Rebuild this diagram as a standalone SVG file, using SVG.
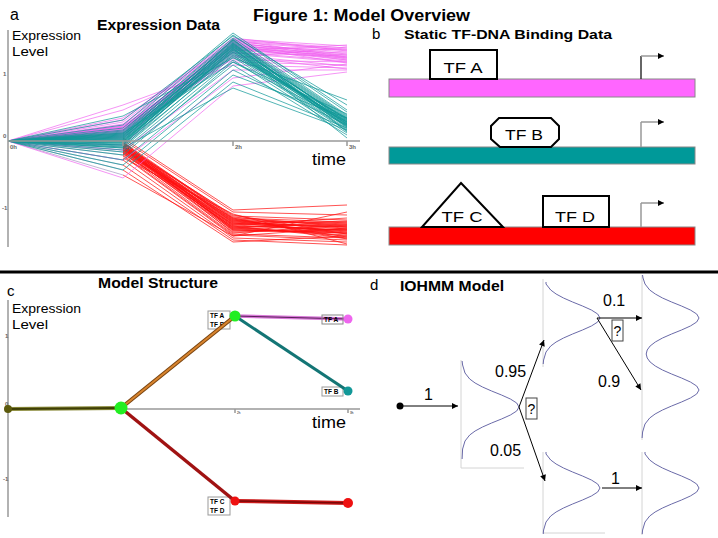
<svg xmlns="http://www.w3.org/2000/svg" width="718" height="538" viewBox="0 0 718 538">
<style>
text{font-family:"Liberation Sans",Arial,sans-serif;fill:#000}
.t{font-weight:bold}
.ax{stroke:#999;stroke-width:1.5;fill:none}
.tk{font-size:6px;font-weight:bold;fill:#666}
.m polyline{stroke:#f060f0;stroke-width:0.8;fill:none;stroke-opacity:0.85}
.c polyline{stroke:#109898;stroke-width:0.8;fill:none;stroke-opacity:0.9}
.r polyline{stroke:#ff1010;stroke-width:0.8;fill:none;stroke-opacity:0.9}
.r0 path{stroke:#6a5a9a;stroke-width:0.8;fill:none;stroke-opacity:0.55}
.tf{fill:#fff;stroke:#000;stroke-width:2}
.tft{font-size:15px;text-anchor:middle}
.bar{stroke:#888;stroke-width:1}
.prom{fill:none;stroke-width:1.5}
.lb{fill:#fff;stroke:#999;stroke-width:1}
.lbt{font-size:6.5px;font-weight:bold}
.gc{fill:none;stroke:#6a6aa8;stroke-width:1}
.bd{stroke:#d4d4d4;stroke-width:1;fill:none}
.ar{stroke:#000;stroke-width:1;fill:none;marker-end:url(#ah)}
.num{font-size:16px}
.q{fill:#fff;stroke:#444;stroke-width:1}
</style>
<defs>
<marker id="ah" viewBox="0 0 10 10" refX="10" refY="5" markerWidth="7" markerHeight="6" markerUnits="userSpaceOnUse" orient="auto"><path d="M0,0 L10,5 L0,10 z" fill="#000"/></marker>
<path id="gf" class="gc" d="M0.1,-46 L0.6,-42 L3,-34 L7.7,-28 L13.1,-24 L20.5,-20 L29.6,-16 L39.5,-12 L48.4,-8 L54.7,-4 L57,0 L54.7,4 L48.4,8 L39.5,12 L29.6,16 L20.5,20 L13.1,24 L7.7,28 L3,34 L0.6,42 L0.1,52"/>
<path id="gs" class="gc" d="M3,-36 L3,-34 L7.7,-28 L13.1,-24 L20.5,-20 L29.6,-16 L39.5,-12 L48.4,-8 L54.7,-4 L57,0 L54.7,4 L48.4,8 L39.5,12 L29.6,16 L20.5,20 L13.1,24 L7.7,28 L3,34 L0.6,42 L0.2,46"/>
</defs>
<rect width="718" height="538" fill="#fff"/>

<text class="t" x="253" y="21" font-size="16" textLength="217" lengthAdjust="spacingAndGlyphs">Figure 1: Model Overview</text>

<!-- ===== Panel a ===== -->
<g id="panel-a">
<text x="10" y="20" font-size="16">a</text>
<text class="t" x="97" y="30" font-size="15" textLength="123" lengthAdjust="spacingAndGlyphs">Expression Data</text>
<g class="r0">
<path d="M8,141 L123,145 M8,141 L123,150 M8,141 L123,155 M8,141 L123,160 M8,141 L123,165 M8,141 L123,170 M8,141 L123,175 M8,141 L123,152 M8,141 L123,147"/>
</g>
<g class="r">
<polyline points="123,145 233,220 347,225"/><polyline points="123,148 233,225 347,230"/><polyline points="123,142 233,218 347,222"/><polyline points="123,150 233,228 347,235"/><polyline points="123,146 233,222 347,228"/><polyline points="123,152 233,230 347,232"/><polyline points="123,144 233,216 347,220"/><polyline points="123,149 233,226 347,238"/><polyline points="123,147 233,224 347,226"/><polyline points="123,151 233,232 347,230"/><polyline points="123,143 233,219 347,224"/><polyline points="123,153 233,227 347,236"/><polyline points="123,146 233,221 347,229"/><polyline points="123,148 233,229 347,233"/><polyline points="123,145 233,217 347,227"/><polyline points="123,150 233,223 347,231"/><polyline points="123,155 233,235 347,240"/><polyline points="123,140 233,212 347,215"/><polyline points="123,160 233,238 347,242"/><polyline points="123,138 233,210 347,205"/><polyline points="123,165 233,240 347,245"/><polyline points="123,170 233,242 347,236"/><polyline points="123,175 233,236 347,228"/><polyline points="123,147 233,225 347,218"/><polyline points="123,149 233,220 347,234"/><polyline points="123,144 233,228 347,222"/><polyline points="123,152 233,218 347,239"/><polyline points="123,146 233,233 347,225"/><polyline points="123,148 233,226 347,230"/><polyline points="123,150 233,222 347,227"/><polyline points="123,142 233,230 347,233"/><polyline points="123,154 233,224 347,221"/><polyline points="123,147 233,219 347,237"/><polyline points="123,145 233,231 347,229"/><polyline points="123,151 233,227 347,224"/><polyline points="123,143 233,223 347,232"/><polyline points="123,149 233,229 347,226"/><polyline points="123,146 233,215 347,234"/><polyline points="123,153 233,234 347,238"/><polyline points="123,148 233,221 347,223"/><polyline points="123,156 233,236 347,212"/><polyline points="123,158 233,214 347,244"/>
</g>
<g class="m">
<polyline points="8,141 123,130 233,42 347,50"/><polyline points="8,141 123,128 233,45 347,55"/><polyline points="8,141 123,125 233,40 347,48"/><polyline points="8,141 123,133 233,48 347,60"/><polyline points="8,141 123,127 233,44 347,52"/><polyline points="8,141 123,135 233,50 347,58"/><polyline points="8,141 123,122 233,39 347,46"/><polyline points="8,141 123,131 233,46 347,63"/><polyline points="8,141 123,129 233,43 347,54"/><polyline points="8,141 123,126 233,47 347,57"/><polyline points="8,141 123,138 233,52 347,61"/><polyline points="8,141 123,124 233,41 347,49"/><polyline points="8,141 123,132 233,55 347,66"/><polyline points="8,141 123,120 233,38 347,51"/><polyline points="8,141 123,136 233,44 347,59"/><polyline points="8,141 123,110 233,60 347,62"/><polyline points="8,141 123,105 233,65 347,68"/><polyline points="8,141 123,150 233,70 347,70"/><polyline points="8,141 123,178 233,86 347,72"/><polyline points="8,141 123,160 233,78 347,64"/><polyline points="8,141 123,128 233,49 347,53"/><polyline points="8,141 123,134 233,53 347,56"/><polyline points="8,141 123,130 233,58 347,47"/><polyline points="8,141 123,127 233,62 347,65"/><polyline points="8,141 123,140 233,45 347,60"/><polyline points="8,141 123,145 233,50 347,55"/><polyline points="8,141 123,118 233,42 347,58"/><polyline points="8,141 123,131 233,47 347,50"/><polyline points="8,141 123,126 233,53 347,62"/><polyline points="8,141 123,133 233,40 347,57"/><polyline points="8,141 123,129 233,51 347,45"/><polyline points="8,141 123,137 233,56 347,69"/>
</g>
<g class="c">
<polyline points="8,141 123,135 233,45 347,120"/><polyline points="8,141 123,140 233,48 347,124"/><polyline points="8,141 123,132 233,42 347,118"/><polyline points="8,141 123,145 233,50 347,126"/><polyline points="8,141 123,138 233,52 347,122"/><polyline points="8,141 123,142 233,46 347,128"/><polyline points="8,141 123,130 233,40 347,116"/><polyline points="8,141 123,148 233,55 347,130"/><polyline points="8,141 123,136 233,44 347,121"/><polyline points="8,141 123,139 233,47 347,125"/><polyline points="8,141 123,133 233,43 347,119"/><polyline points="8,141 123,144 233,51 347,127"/><polyline points="8,141 123,137 233,49 347,123"/><polyline points="8,141 123,141 233,53 347,129"/><polyline points="8,141 123,134 233,41 347,117"/><polyline points="8,141 123,146 233,57 347,131"/><polyline points="8,141 123,131 233,38 347,115"/><polyline points="8,141 123,143 233,45 347,124"/><polyline points="8,141 123,150 233,60 347,133"/><polyline points="8,141 123,128 233,35 347,112"/><polyline points="8,141 123,155 233,62 347,122"/><polyline points="8,141 123,160 233,70 347,125"/><polyline points="8,141 123,165 233,75 347,118"/><polyline points="8,141 123,170 233,82 347,128"/><polyline points="8,141 123,125 233,33 347,110"/><polyline points="8,141 123,120 233,36 347,105"/><polyline points="8,141 123,116 233,58 347,100"/><polyline points="8,141 123,152 233,65 347,135"/><polyline points="8,141 123,147 233,48 347,138"/><polyline points="8,141 123,140 233,52 347,126"/><polyline points="8,141 123,136 233,46 347,120"/><polyline points="8,141 123,138 233,44 347,122"/><polyline points="8,141 123,142 233,50 347,124"/><polyline points="8,141 123,134 233,47 347,119"/><polyline points="8,141 123,139 233,43 347,127"/><polyline points="8,141 123,143 233,54 347,121"/><polyline points="8,141 123,137 233,40 347,123"/><polyline points="8,141 123,141 233,49 347,125"/><polyline points="8,141 123,135 233,56 347,118"/><polyline points="8,141 123,148 233,88 347,130"/><polyline points="8,141 123,133 233,62 347,114"/><polyline points="8,141 123,145 233,39 347,132"/>
</g>
<path class="ax" d="M8,30 V247 M8,141 H360 M123,141 v5 M233,141 v5 M347,141 v5"/>
<text class="tk" x="10" y="149">0h</text><text class="tk" x="124" y="149">1h</text><text class="tk" x="235" y="149">2h</text><text class="tk" x="349" y="149">3h</text>
<text class="tk" x="3" y="76">1</text><text class="tk" x="3" y="138">0</text><text class="tk" x="2" y="210">-1</text>
<text x="12" y="40" font-size="13" textLength="69" lengthAdjust="spacingAndGlyphs">Expression</text>
<text x="12" y="56" font-size="13" textLength="36" lengthAdjust="spacingAndGlyphs">Level</text>
<text x="312" y="165" font-size="17" textLength="34" lengthAdjust="spacingAndGlyphs">time</text>
</g>

<!-- ===== Panel b ===== -->
<g id="panel-b">
<text x="372" y="39" font-size="15">b</text>
<text class="t" x="404" y="39" font-size="13.5" textLength="208" lengthAdjust="spacingAndGlyphs">Static TF-DNA Binding Data</text>
<g id="gene1">
<rect class="bar" x="389" y="79" width="306" height="18" fill="#ff66ff"/>
<path class="prom" d="M641,79 V56" stroke="#333"/><path class="prom" d="M641,56 H664" stroke="#999" marker-end="url(#ah)"/>
</g>
<g id="gene2">
<rect class="bar" x="389" y="147" width="306" height="17" fill="#009999"/>
<path class="prom" d="M641,147 V122" stroke="#999"/><path class="prom" d="M641,122 H664" stroke="#999" marker-end="url(#ah)"/>
</g>
<g id="gene3">
<rect class="bar" x="389" y="227" width="306" height="18" fill="#ff0000"/>
<path class="prom" d="M641,227 V203" stroke="#999"/><path class="prom" d="M641,203 H664" stroke="#999" marker-end="url(#ah)"/>
</g>
<g id="tfA"><rect class="tf" x="430" y="50" width="67" height="29"/><text class="tft" x="463" y="73" textLength="39" lengthAdjust="spacingAndGlyphs">TF A</text></g>
<g id="tfB"><polygon class="tf" points="499,118 551,118 559,126 559,139 551,147 500,147 491,139 491,126"/><text class="tft" x="524" y="140" textLength="38" lengthAdjust="spacingAndGlyphs">TF B</text></g>
<g id="tfC"><polygon class="tf" points="461,183 503,227 422,227"/><text class="tft" x="462" y="222" textLength="41" lengthAdjust="spacingAndGlyphs">TF C</text></g>
<g id="tfD"><rect class="tf" x="543" y="196" width="66" height="31"/><text class="tft" x="575" y="222" textLength="40" lengthAdjust="spacingAndGlyphs">TF D</text></g>
</g>

<line x1="0" y1="272" x2="718" y2="272" stroke="#000" stroke-width="3"/>

<!-- ===== Panel c ===== -->
<g id="panel-c">
<text x="7" y="296" font-size="15">c</text>
<text class="t" x="98" y="288" font-size="15" textLength="120" lengthAdjust="spacingAndGlyphs">Model Structure</text>
<path class="ax" d="M8,300 V517 M8,409 H360 M123,409 v4 M235,409 v4 M348,409 v4"/>
<text x="237" y="414" font-size="3" fill="#999">2h</text><text x="350" y="414" font-size="3" fill="#999">3h</text>
<text class="tk" x="5" y="338" font-size="4">1</text><text class="tk" x="5" y="406" font-size="4">0</text><text class="tk" x="3" y="481" font-size="4">-1</text>
<text x="12" y="313" font-size="13" textLength="69" lengthAdjust="spacingAndGlyphs">Expression</text>
<text x="12" y="329" font-size="13" textLength="36" lengthAdjust="spacingAndGlyphs">Level</text>
<text x="312" y="428" font-size="17" textLength="34" lengthAdjust="spacingAndGlyphs">time</text>
<g id="lbl-ab"><rect class="lb" x="208" y="311" width="22" height="18"/><text class="lbt" x="210" y="318">TF A</text><text class="lbt" x="210" y="327">TF B</text></g>
<g id="lbl-b"><rect class="lb" x="322" y="387" width="21" height="9"/><text class="lbt" x="324" y="394">TF B</text></g>
<g id="lbl-cd"><rect class="lb" x="208" y="497" width="22" height="18"/><text class="lbt" x="210" y="504">TF C</text><text class="lbt" x="210" y="513">TF D</text></g>
<g id="c-edges">
<line x1="8" y1="409" x2="121" y2="408" stroke="#8a8a3a" stroke-width="4"/>
<line x1="8" y1="409" x2="121" y2="408" stroke="#3e3e05" stroke-width="2"/>
<line x1="121" y1="408" x2="235" y2="316" stroke="#7a4410" stroke-width="4"/>
<line x1="121" y1="408" x2="235" y2="316" stroke="#d8842e" stroke-width="2"/>
<line x1="121" y1="408" x2="235" y2="501" stroke="#a01212" stroke-width="3.5"/>
<line x1="235" y1="316" x2="348" y2="319" stroke="#d878d8" stroke-width="3.5"/>
<line x1="235" y1="316" x2="348" y2="319" stroke="#5a1f5a" stroke-width="1"/>
<line x1="235" y1="316" x2="348" y2="391" stroke="#137575" stroke-width="3"/>
<line x1="235" y1="501" x2="348" y2="503" stroke="#cc1a1a" stroke-width="4"/>
<line x1="235" y1="501" x2="348" y2="503" stroke="#7a0808" stroke-width="1.5"/>
</g>
<g id="lbl-a"><rect x="322" y="315" width="21" height="9" fill="none" stroke="#888" stroke-width="1"/><text class="lbt" x="324" y="322">TF A</text></g>
<g id="c-n0"><circle cx="8" cy="409" r="4" fill="#5c5a0c"/></g>
<g id="c-n1"><circle cx="121" cy="408" r="6.5" fill="#22ee22"/></g>
<g id="c-n2"><circle cx="235" cy="316" r="5.5" fill="#22ee22"/></g>
<g id="c-n3"><circle cx="235" cy="501" r="4.5" fill="#ee1111"/></g>
<g id="c-n4"><circle cx="348" cy="319" r="4.5" fill="#ee66ee"/></g>
<g id="c-n5"><circle cx="348" cy="391" r="4.5" fill="#129898"/></g>
<g id="c-n6"><circle cx="348" cy="503" r="5" fill="#ee1111"/></g>
</g>

<!-- ===== Panel d ===== -->
<g id="panel-d">
<text x="370" y="290" font-size="15">d</text>
<text class="t" x="400" y="291" font-size="14" textLength="104" lengthAdjust="spacingAndGlyphs">IOHMM Model</text>
<g id="start"><circle cx="400" cy="406" r="3.5" fill="#000"/></g>
<g id="s1"><path class="bd" d="M461,360 V468 H524"/><use href="#gf" x="462" y="407"/></g>
<g id="s2"><path class="bd" d="M543,279 V367"/><use href="#gs" x="543" y="318"/></g>
<g id="s3"><path class="bd" d="M642,275 V440"/>
<path class="gc" transform="translate(642,318)" d="M0.5,-43 L1,-40 L3,-34 L7.7,-28 L13.3,-24 L20.5,-20 L29.6,-16 L39.5,-12 L48.4,-8 L54.7,-4 L57,0 L54.7,4 L48.4,8 L39.5,12 L29.6,16 L20.5,20 L13.3,24 L8.1,28 L5.2,32 L4.2,36 L5.2,40 L8.1,44 L13.3,48 L20.5,52 L29.6,56 L39.5,60 L48.4,64 L54.7,68 L57,72 L54.7,76 L48.4,80 L39.5,84 L29.6,88 L20.5,92 L13.1,96 L7.7,100 L3,106 L0.6,114 L0.1,120"/></g>
<g id="s4"><path class="bd" d="M543,452 V533 H605"/><use href="#gs" x="543" y="488"/></g>
<g id="s5"><path class="bd" d="M642,452 V535"/><use href="#gs" x="642" y="488"/></g>
<g id="d-edges">
<line class="ar" x1="400" y1="406" x2="458" y2="406"/>
<line class="ar" x1="519" y1="407" x2="544" y2="340"/>
<line class="ar" x1="519" y1="407" x2="545" y2="481"/>
<line class="ar" x1="597" y1="318" x2="642" y2="318"/>
<line class="ar" x1="597" y1="318" x2="641" y2="390"/>
<line class="ar" x1="602" y1="488" x2="642" y2="488" stroke="#555"/>
</g>
<text class="num" x="424" y="400">1</text>
<text class="num" x="495" y="377">0.95</text>
<text class="num" x="490" y="456">0.05</text>
<text class="num" x="603" y="306">0.1</text>
<text class="num" x="598" y="387">0.9</text>
<text class="num" x="611" y="484">1</text>
<g id="q1"><rect class="q" x="526" y="398" width="11" height="21"/><text x="531.5" y="414" font-size="14" text-anchor="middle">?</text></g>
<g id="q2"><rect class="q" x="612" y="320" width="11" height="21"/><text x="617.5" y="336" font-size="14" text-anchor="middle">?</text></g>
</g>
</svg>
